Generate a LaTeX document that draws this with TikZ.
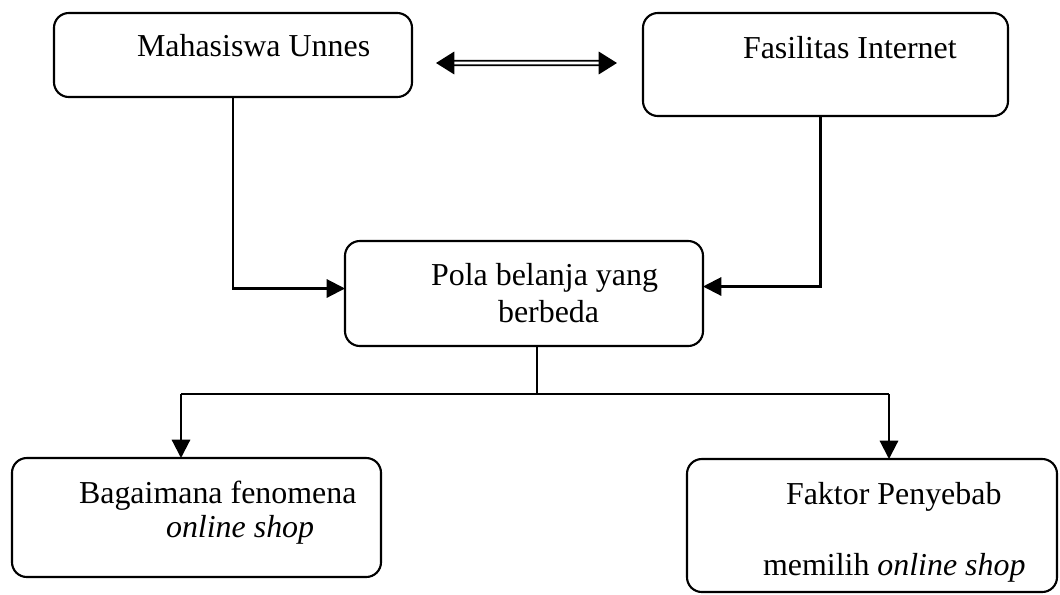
\documentclass[tikz,border=0pt]{standalone}
\usepackage{fontspec}
\setmainfont{Liberation Serif}
\usetikzlibrary{arrows.meta,fit,calc}
\begin{document}
\begin{tikzpicture}[x=0.025cm,y=-0.025cm,line width=1.5pt,
	box/.style={draw,rounded corners=0.37cm,inner sep=0pt,outer sep=0pt},
	txt/.style={inner sep=0pt,anchor=base west},
	arr/.style={-{Triangle[length=13pt,width=13pt]}},
	dblarr/.style={double,double distance=1.8pt,line width=1.3pt,
		{Triangle[length=13pt,width=16pt]}-{Triangle[length=13pt,width=16pt]}}]
	\fontsize{22.7}{26}\selectfont
	\useasboundingbox (0,0) rectangle (1060,594);
	\node[box,fit={(54,13) (412,97)}]	(mhs) {};
	\node[box,fit={(643,13) (1008,116)}]	(fas) {};
	\node[box,fit={(345,241) (703,346)}]	(pola) {};
	\node[box,fit={(12,458) (381,577)}]	(bag) {};
	\node[box,fit={(687,459) (1057,592)}]	(fak) {};
	\node[txt] at (136,56)	(mhs-t) {Mahasiswa Unnes};
	\node[txt] at (742,58)	(fas-t) {Fasilitas Internet};
	\node[txt] at (430,285)	(pola-a) {Pola belanja yang};
	\node[txt] at (497,322)	(pola-b) {berbeda};
	\node[txt] at (78,503)	(bag-a) {Bagaimana fenomena};
	\node[txt] at (165,537)	(bag-b) {\textit{online shop}};
	\node[txt] at (785,504)	(fak-a) {Faktor Penyebab};
	\node[txt] at (762,575)	(fak-b) {memilih \textit{online shop}};
	\draw[dblarr] ($(mhs.east)+(24,8)$) -- ($(fas.west)+(-26,-1.5)$);
	\draw[arr] (mhs.south) |- ($(pola.west)+(0,-5)$);
	\draw[arr] ($(fas.south)+(-5,0)$) |- ($(pola.east)+(0,-7)$);
	\coordinate (split) at ($(pola.south)+(13,48)$);
	\coordinate (bl) at (181,394);
	\coordinate (br) at (889,394);
	\draw ($(pola.south)+(13,0)$) -- (split);
	\draw (bl) -- (br);
	\draw[arr] (bl) -- (bl |- bag.north);
	\draw[arr] (br) -- (br |- fak.north);
\end{tikzpicture}
\end{document}
